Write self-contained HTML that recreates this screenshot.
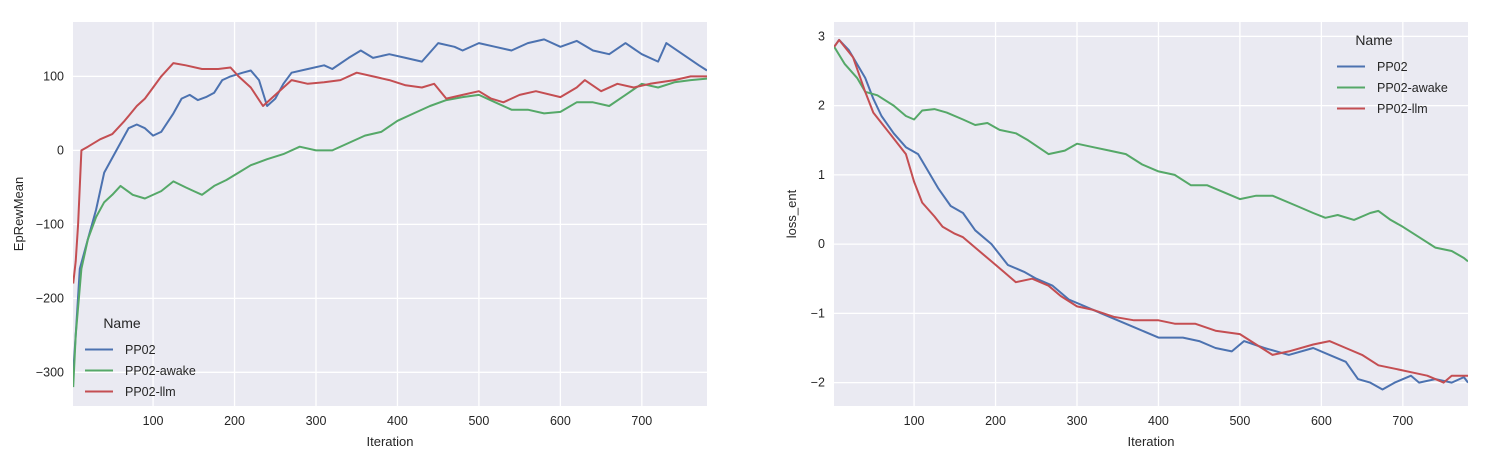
<!DOCTYPE html>
<html><head><meta charset="utf-8"><style>
body{margin:0;background:#fff;}
svg{display:block;font-family:"Liberation Sans",Arial,sans-serif;}
</style></head><body>
<svg id="c" width="1488" height="460"></svg>
<script>
const iterL_blue=[2,5,10,20,30,40,55,70,80,90,100,110,125,135,145,155,165,175,185,195,210,220,230,240,250,260,270,290,310,320,340,355,370,390,410,430,450,470,480,500,520,540,560,580,600,620,640,660,680,700,720,730,750,770,780];
const valL_blue=[-300,-250,-160,-120,-80,-30,0,30,35,30,20,25,50,70,75,68,72,78,95,100,105,108,95,60,70,90,105,110,115,110,125,135,125,130,125,120,145,140,135,145,140,135,145,150,140,148,135,130,145,130,120,145,130,115,108];
const iterL_red=[2,5,8,12,20,35,50,65,80,90,100,110,125,140,160,180,195,205,220,235,245,255,270,290,310,330,350,370,390,410,430,445,460,480,500,515,530,550,570,600,620,630,650,670,690,710,740,760,780];
const valL_red=[-180,-150,-100,0,5,15,22,40,60,70,85,100,118,115,110,110,112,100,85,60,70,80,95,90,92,95,105,100,95,88,85,90,70,75,80,70,65,75,80,72,85,95,80,90,85,90,95,100,100];
const iterL_green=[2,5,12,20,30,40,50,60,75,90,110,125,140,150,160,175,190,205,220,240,260,280,300,320,340,360,380,400,420,440,460,480,500,520,540,560,580,600,620,640,660,680,700,720,740,760,780];
const valL_green=[-320,-250,-160,-120,-90,-70,-60,-48,-60,-65,-55,-42,-50,-55,-60,-48,-40,-30,-20,-12,-5,5,0,0,10,20,25,40,50,60,68,72,75,65,55,55,50,52,65,65,60,75,90,85,92,95,97];
const iterR_blue=[2,8,20,40,50,60,75,90,105,115,130,145,160,175,195,215,235,250,270,290,310,330,350,370,400,430,450,470,490,505,530,560,590,610,630,645,660,675,690,710,720,740,760,775,780];
const valR_blue=[2.85,2.95,2.8,2.4,2.1,1.85,1.6,1.4,1.3,1.1,0.8,0.55,0.45,0.2,0.0,-0.3,-0.4,-0.5,-0.6,-0.8,-0.9,-1.0,-1.1,-1.2,-1.35,-1.35,-1.4,-1.5,-1.55,-1.4,-1.5,-1.6,-1.5,-1.6,-1.7,-1.95,-2.0,-2.1,-2.0,-1.9,-2.0,-1.95,-2.0,-1.92,-2.0];
const iterR_red=[2,8,25,40,50,70,90,100,110,125,135,150,160,180,195,210,225,245,265,280,300,320,345,370,400,420,445,470,500,520,540,560,590,610,630,650,670,690,710,730,750,760,780];
const valR_red=[2.85,2.95,2.7,2.2,1.9,1.6,1.3,0.9,0.6,0.4,0.25,0.15,0.1,-0.1,-0.25,-0.4,-0.55,-0.5,-0.6,-0.75,-0.9,-0.95,-1.05,-1.1,-1.1,-1.15,-1.15,-1.25,-1.3,-1.45,-1.6,-1.55,-1.45,-1.4,-1.5,-1.6,-1.75,-1.8,-1.85,-1.9,-2.0,-1.9,-1.9];
const iterR_green=[2,15,30,40,55,75,90,100,110,125,140,160,175,190,205,225,240,265,285,300,320,340,360,380,400,420,440,460,480,500,520,540,570,590,605,620,640,660,670,685,700,720,740,760,775,780];
const valR_green=[2.85,2.6,2.4,2.2,2.15,2.0,1.85,1.8,1.93,1.95,1.9,1.8,1.72,1.75,1.65,1.6,1.5,1.3,1.35,1.45,1.4,1.35,1.3,1.15,1.05,1.0,0.85,0.85,0.75,0.65,0.7,0.7,0.55,0.45,0.38,0.42,0.35,0.45,0.48,0.35,0.25,0.1,-0.05,-0.1,-0.2,-0.25];
const xTicks=[100,200,300,400,500,600,700];
const yTicksL=[100,0,-100,-200,-300];
const yTicksR=[3,2,1,0,-1,-2];
const seriesNames=["PP02","PP02-awake","PP02-llm"];
const colors=["#4c72b0","#55a868","#c44e52"];
const NS="http://www.w3.org/2000/svg";
const svg=document.getElementById('c');
function mk(tag,attrs,parent){const e=document.createElementNS(NS,tag);for(const k in attrs)e.setAttribute(k,attrs[k]);(parent||svg).appendChild(e);return e;}
function panel(cfg){
  const g=mk('g',{});
  
  
  const sx=v=>cfg.x0+(v-cfg.xmin)/(cfg.xmax-cfg.xmin)*(cfg.x1-cfg.x0);
  const sy=v=>cfg.y1-(v-cfg.ymin)/(cfg.ymax-cfg.ymin)*(cfg.y1-cfg.y0);
  const bg=mk('rect',{x:cfg.x0,y:cfg.y0,width:cfg.x1-cfg.x0,height:cfg.y1-cfg.y0,fill:'#eaeaf2'},g);
  
  
  xTicks.forEach(t=>{const x=sx(t);
    const l=mk('line',{x1:x,x2:x,y1:cfg.y0,y2:cfg.y1,stroke:'#fff','stroke-width':1.3},g);
    
    const tx=mk('text',{x:x,y:cfg.y1+19,'text-anchor':'middle','font-size':12.5,fill:'#262626'},g);tx.textContent=t;
    });
  cfg.yt.forEach(t=>{const y=sy(t);
    const l=mk('line',{x1:cfg.x0,x2:cfg.x1,y1:y,y2:y,stroke:'#fff','stroke-width':1.3},g);
    
    const tx=mk('text',{x:cfg.x0-9,y:y+4,'text-anchor':'end','font-size':12.5,fill:'#262626'},g);tx.textContent=(t<0?'\u2212'+(-t):t);
    });
  const clipId='clip'+cfg.name;
  const cp=mk('clipPath',{id:clipId},g);mk('rect',{x:cfg.x0,y:cfg.y0,width:cfg.x1-cfg.x0,height:cfg.y1-cfg.y0},cp);
  cfg.series.forEach((s,i)=>{
    const d=s[0].map((it,j)=>(j?'L':'M')+sx(it).toFixed(1)+','+sy(s[1][j]).toFixed(1)).join('');
    const p=mk('path',{d:d,fill:'none',stroke:colors[i],'stroke-width':2,'stroke-linejoin':'round','clip-path':'url(#'+clipId+')'},g);
    
    
  });
  const xl=mk('text',{x:(cfg.x0+cfg.x1)/2,y:cfg.y1+40,'text-anchor':'middle','font-size':13,fill:'#262626'},g);xl.textContent='Iteration';
  
  const yx=cfg.x0-cfg.ylOff;const yy=(cfg.y0+cfg.y1)/2;
  const yl=mk('text',{x:yx,y:yy,'text-anchor':'middle','font-size':13,fill:'#262626',transform:'rotate(-90 '+yx+' '+yy+')'},g);yl.textContent=cfg.ylabel;
  
  const lg=mk('g',{},g);
  
  const tt=mk('text',{x:cfg.lx+37,y:cfg.ly,'text-anchor':'middle','font-size':14,fill:'#262626'},lg);tt.textContent='Name';
  
  seriesNames.forEach((n,i)=>{const y=cfg.ly+21*(i+1)+0.5;
    const e=mk('g',{},lg);
    
    mk('line',{x1:cfg.lx,x2:cfg.lx+28,y1:y,y2:y,stroke:colors[i],'stroke-width':2},e);
    const t=mk('text',{x:cfg.lx+40,y:y+4.5,'font-size':12.5,fill:'#262626'},e);t.textContent=n;});
}
panel({name:'left-panel',x0:73,x1:707,y0:22,y1:406,xmin:1.7,xmax:780,ymin:-345.5,ymax:173.5,yt:yTicksL,ylabel:'EpRewMean',ylOff:50,lx:85,ly:328,
  series:[[iterL_blue,valL_blue],[iterL_green,valL_green],[iterL_red,valL_red]]});
panel({name:'right-panel',x0:834,x1:1468,y0:22,y1:406,xmin:1.7,xmax:780,ymin:-2.338,ymax:3.208,yt:yTicksR,ylabel:'loss_ent',ylOff:38,lx:1337,ly:45,
  series:[[iterR_blue,valR_blue],[iterR_green,valR_green],[iterR_red,valR_red]]});
</script>
</body></html>
